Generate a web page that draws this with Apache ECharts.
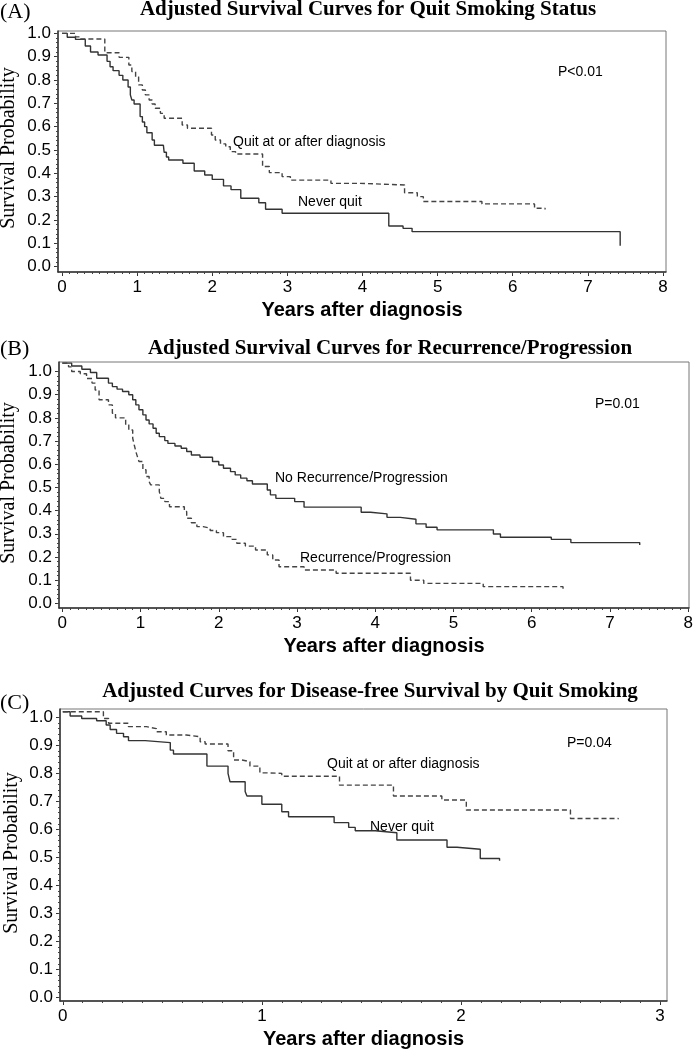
<!DOCTYPE html>
<html>
<head>
<meta charset="utf-8">
<script src="https://cdn.jsdelivr.net/npm/echarts@6/dist/echarts.min.js"></script>
<style>
  html, body { margin: 0; padding: 0; background: #fff; }
  #chart { width: 693px; height: 1050px; }
</style>
</head>
<body>
<div id="chart"></div>
<script>
// ---- data ----
// (A) quit smoking status
var aNeverT = [0, 0.07, 0.18, 0.31, 0.38, 0.48, 0.6, 0.64, 0.68, 0.76, 0.81, 0.88, 0.91, 0.93, 0.96, 1.04, 1.07, 1.1, 1.13, 1.2, 1.23, 1.35, 1.36, 1.39, 1.42, 1.61, 1.76, 1.9, 2.0, 2.15, 2.25, 2.38, 2.62, 2.71, 2.93, 4.35, 4.54, 4.66, 7.43];
var aNeverS = [1.0, 0.983, 0.974, 0.946, 0.92, 0.907, 0.88, 0.857, 0.84, 0.82, 0.80, 0.77, 0.736, 0.714, 0.697, 0.643, 0.62, 0.60, 0.574, 0.543, 0.52, 0.514, 0.49, 0.47, 0.457, 0.443, 0.41, 0.393, 0.374, 0.346, 0.33, 0.293, 0.274, 0.246, 0.229, 0.174, 0.164, 0.15, 0.09];
var aQuitT = [0, 0.18, 0.25, 0.57, 0.76, 0.89, 0.93, 0.98, 1.02, 1.07, 1.11, 1.16, 1.2, 1.24, 1.31, 1.36, 1.6, 1.67, 1.99, 2.04, 2.11, 2.18, 2.24, 2.31, 2.67, 2.76, 2.93, 3.04, 3.58, 3.97, 4.56, 4.73, 4.81, 5.59, 6.29, 6.43];
var aQuitS = [1.0, 0.985, 0.976, 0.917, 0.897, 0.864, 0.836, 0.814, 0.779, 0.757, 0.736, 0.714, 0.697, 0.679, 0.657, 0.636, 0.607, 0.593, 0.564, 0.543, 0.526, 0.514, 0.493, 0.483, 0.429, 0.403, 0.386, 0.371, 0.357, 0.35, 0.317, 0.30, 0.279, 0.269, 0.25, 0.245];

// (B) recurrence / progression
var bNoRecT = [0, 0.12, 0.25, 0.36, 0.44, 0.59, 0.64, 0.70, 0.77, 0.85, 0.90, 0.94, 0.98, 1.03, 1.07, 1.11, 1.16, 1.2, 1.24, 1.31, 1.35, 1.44, 1.52, 1.59, 1.65, 1.76, 1.92, 2.0, 2.06, 2.15, 2.21, 2.28, 2.36, 2.43, 2.62, 2.66, 2.73, 2.97, 3.09, 3.82, 3.94, 4.15, 4.32, 4.52, 4.65, 4.79, 5.51, 5.6, 6.25, 6.5, 7.38];
var bNoRecS = [1.036, 1.024, 1.01, 0.996, 0.971, 0.95, 0.935, 0.924, 0.914, 0.9, 0.878, 0.856, 0.835, 0.813, 0.791, 0.774, 0.755, 0.734, 0.719, 0.702, 0.69, 0.679, 0.669, 0.655, 0.64, 0.63, 0.612, 0.597, 0.583, 0.568, 0.554, 0.54, 0.529, 0.515, 0.489, 0.468, 0.453, 0.439, 0.415, 0.393, 0.386, 0.371, 0.363, 0.343, 0.328, 0.317, 0.299, 0.285, 0.276, 0.262, 0.252];
var bRecT = [0, 0.08, 0.12, 0.23, 0.31, 0.38, 0.42, 0.47, 0.59, 0.64, 0.68, 0.81, 0.85, 0.9, 0.92, 0.94, 0.96, 0.98, 1.03, 1.07, 1.11, 1.13, 1.24, 1.26, 1.31, 1.37, 1.56, 1.59, 1.65, 1.72, 1.8, 1.89, 1.97, 2.06, 2.17, 2.23, 2.34, 2.47, 2.62, 2.69, 2.77, 3.09, 3.5, 4.45, 4.62, 5.38, 6.4];
var bRecS = [1.036, 1.02, 1.0, 0.99, 0.97, 0.95, 0.92, 0.878, 0.856, 0.82, 0.8, 0.77, 0.748, 0.712, 0.683, 0.655, 0.633, 0.612, 0.576, 0.547, 0.525, 0.511, 0.482, 0.453, 0.439, 0.417, 0.396, 0.367, 0.348, 0.331, 0.324, 0.314, 0.305, 0.288, 0.276, 0.259, 0.247, 0.23, 0.209, 0.187, 0.158, 0.144, 0.13, 0.1, 0.086, 0.072, 0.062];

// (C) disease-free survival by quit smoking
var cNeverT = [0, 0.037, 0.095, 0.17, 0.218, 0.238, 0.27, 0.305, 0.33, 0.414, 0.54, 0.556, 0.724, 0.83, 0.84, 0.916, 0.925, 1.0, 1.1, 1.134, 1.363, 1.436, 1.469, 1.569, 1.678, 1.93, 1.98, 2.097, 2.194];
var cNeverS = [1.02, 1.005, 0.996, 0.988, 0.973, 0.957, 0.943, 0.931, 0.917, 0.91, 0.883, 0.869, 0.826, 0.8, 0.77, 0.735, 0.719, 0.69, 0.663, 0.645, 0.624, 0.607, 0.595, 0.588, 0.562, 0.536, 0.529, 0.496, 0.488];
var cQuitT = [0, 0.204, 0.23, 0.33, 0.42, 0.47, 0.52, 0.62, 0.69, 0.715, 0.83, 0.858, 0.9, 0.94, 0.99, 1.025, 1.1, 1.39, 1.661, 1.904, 2.027, 2.55, 2.79];
var cQuitS = [1.02, 0.996, 0.979, 0.967, 0.96, 0.949, 0.937, 0.931, 0.913, 0.905, 0.881, 0.848, 0.842, 0.826, 0.802, 0.8, 0.79, 0.758, 0.719, 0.705, 0.669, 0.639, 0.636];

// tick labels
var yearTicks8 = [0, 1, 2, 3, 4, 5, 6, 7, 8];
var yearTicks3 = [0, 1, 2, 3];
var probTicks = [0, 0.1, 0.2, 0.3, 0.4, 0.5, 0.6, 0.7, 0.8, 0.9, 1.0];

var titles = [
    'Adjusted Survival Curves for Quit Smoking Status',
    'Adjusted Survival Curves for Recurrence/Progression',
    'Adjusted Curves for Disease-free Survival by Quit Smoking'
];

var SERIF = '"Liberation Serif", "Times New Roman", serif';
var SANS = '"Liberation Sans", Arial, sans-serif';

function zip(t, s) {
    return t.map(function (v, i) { return [v, s[i]]; });
}

// small tick positions between two values
function steps(from, to, step) {
    var out = [];
    var n = Math.round((to - from) / step);
    for (var i = 0; i <= n; i++) out.push(+(from + i * step).toFixed(3));
    return out;
}

var myChart = echarts.init(document.getElementById('chart'), null, { renderer: 'canvas' });

var grids = [
    { left: 58, top: 31, width: 608, height: 241 },
    { left: 59, top: 362, width: 630, height: 246 },
    { left: 60, top: 709, width: 607, height: 292 }
];
var xRanges = [[-0.053, 8.04], [-0.042, 8.01], [-0.014, 3.035]];
var yRanges = [[-0.023, 1.01], [-0.02, 1.041], [-0.013, 1.03]];
var xMajor = [yearTicks8, yearTicks8, yearTicks3];

var xAxes = [], yAxes = [];
grids.forEach(function (g, i) {
    g.show = true;
    g.borderColor = '#777';
    g.borderWidth = 1;
    g.containLabel = false;
    g.outerBoundsMode = 'none';
    // main x axis
    xAxes.push({
        type: 'value', gridIndex: i, position: 'bottom', min: xRanges[i][0], max: xRanges[i][1],
        name: 'Years after diagnosis', nameLocation: 'middle', nameGap: 28,
        nameTextStyle: { fontFamily: SANS, fontWeight: 'bold', fontSize: 20, color: '#000',
                         padding: i === 1 ? [0, 0, 0, 20] : 0 },
        axisLine: { show: true, onZero: false, lineStyle: { color: '#333', width: 1.5 } },
        axisTick: { show: true, customValues: xMajor[i], length: 4, lineStyle: { color: '#333' } },
        axisLabel: { customValues: xMajor[i], margin: 7, fontFamily: SANS, fontSize: 17, color: '#000' },
        splitLine: { show: false }
    });
    // minor ticks
    xAxes.push({
        type: 'value', gridIndex: i, position: 'bottom', min: xRanges[i][0], max: xRanges[i][1],
        axisLine: { show: false, onZero: false },
        axisTick: { show: true, customValues: steps(0, xMajor[i][xMajor[i].length - 1], 0.1), length: 2, lineStyle: { color: '#444' } },
        axisLabel: { show: false, customValues: [] },
        splitLine: { show: false }
    });
    yAxes.push({
        type: 'value', gridIndex: i, position: 'left', min: yRanges[i][0], max: yRanges[i][1],
        axisLine: { show: true, onZero: false, lineStyle: { color: '#333', width: 1.5 } },
        axisTick: { show: true, customValues: probTicks, length: 4, lineStyle: { color: '#333' } },
        axisLabel: {
            customValues: probTicks, margin: 7, fontFamily: SANS, fontSize: 17, color: '#000',
            formatter: function (v) { return v.toFixed(1); }
        },
        splitLine: { show: false }
    });
    yAxes.push({
        type: 'value', gridIndex: i, position: 'left', min: yRanges[i][0], max: yRanges[i][1],
        axisLine: { show: false, onZero: false },
        axisTick: { show: true, customValues: steps(0, 1, 0.02), length: 2, lineStyle: { color: '#444' } },
        axisLabel: { show: false, customValues: [] },
        splitLine: { show: false }
    });
});

function curve(name, t, s, i, dashed) {
    return {
        name: name, type: 'line', step: 'end',
        xAxisIndex: i * 2, yAxisIndex: i * 2,
        data: zip(t, s), symbol: 'none', silent: true, animation: false,
        lineStyle: { color: dashed ? '#444' : '#333', width: 1.4, type: dashed ? [5, 3] : 'solid' }
    };
}

function txt(x, y, text, font, align, rot) {
    return {
        type: 'text', x: x, y: y, rotation: rot || 0, silent: true,
        style: { text: text, font: font, fill: '#000',
                 textAlign: align || 'left', align: align || 'left',
                 textVerticalAlign: 'middle', verticalAlign: 'middle' }
    };
}

var titleFont = 'bold 21px ' + SERIF;
var tagFont = '22px ' + SERIF;
var noteFont = '14px ' + SANS;
var yNameFont = '20px ' + SERIF;
var yName = 'Survival Probability';

var option = {
    backgroundColor: '#fff',
    animation: false,
    grid: grids,
    xAxis: xAxes,
    yAxis: yAxes,
    series: [
        curve('Never quit', aNeverT, aNeverS, 0, false),
        curve('Quit at or after diagnosis', aQuitT, aQuitS, 0, true),
        curve('No Recurrence/Progression', bNoRecT, bNoRecS, 1, false),
        curve('Recurrence/Progression', bRecT, bRecS, 1, true),
        curve('Never quit', cNeverT, cNeverS, 2, false),
        curve('Quit at or after diagnosis', cQuitT, cQuitS, 2, true)
    ],
    graphic: [
        txt(0, 12, '(A)', tagFont),
        txt(368, 10, titles[0], titleFont, 'center'),
        txt(9, 148, yName, yNameFont, 'center', Math.PI / 2),
        txt(558, 72, 'P<0.01', noteFont),
        txt(233, 142, 'Quit at or after diagnosis', noteFont),
        txt(298, 202, 'Never quit', noteFont),

        txt(0, 349, '(B)', tagFont),
        txt(390, 349, titles[1], titleFont, 'center'),
        txt(9, 483, yName, yNameFont, 'center', Math.PI / 2),
        txt(595, 404, 'P=0.01', noteFont),
        txt(275, 478, 'No Recurrence/Progression', noteFont),
        txt(300, 558, 'Recurrence/Progression', noteFont),

        txt(0, 703, '(C)', tagFont),
        txt(370, 692, titles[2], titleFont, 'center'),
        txt(12, 853, yName, yNameFont, 'center', Math.PI / 2),
        txt(567, 743, 'P=0.04', noteFont),
        txt(327, 764, 'Quit at or after diagnosis', noteFont),
        txt(370, 827, 'Never quit', noteFont)
    ]
};

myChart.setOption(option, true);
</script>
</body>
</html>
